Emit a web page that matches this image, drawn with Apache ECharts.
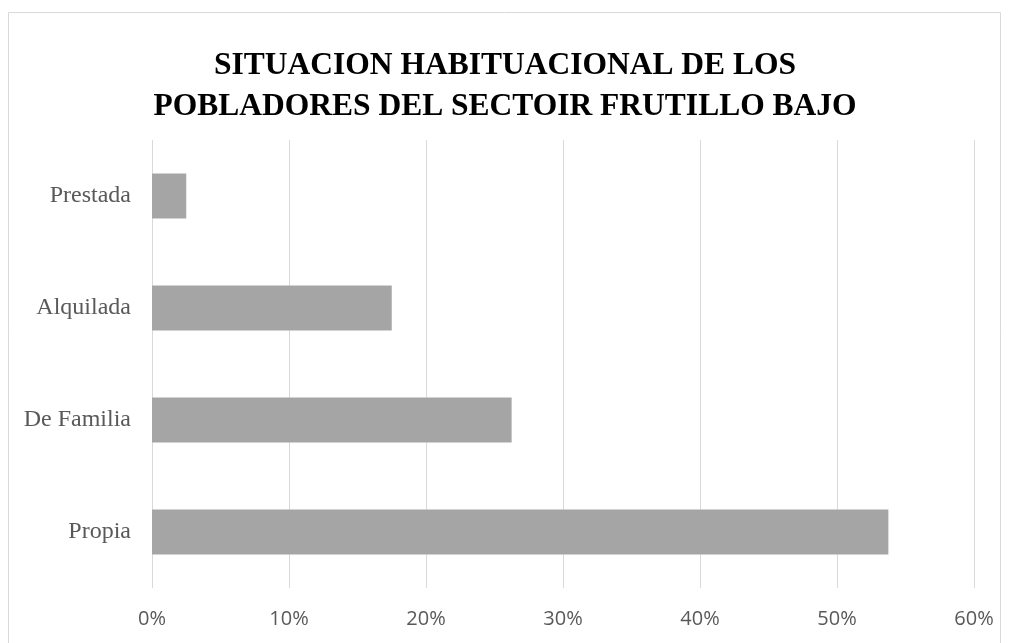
<!DOCTYPE html>
<html>
<head>
<meta charset="utf-8">
<script src="https://cdn.jsdelivr.net/npm/echarts@6/dist/echarts.min.js"></script>
<style>
html,body{margin:0;padding:0;background:#fff;}
#chart{width:1010px;height:643px;}
</style>
</head>
<body>
<div id="chart"></div>
<script>
const titleText = "SITUACION HABITUACIONAL DE LOS\nPOBLADORES DEL SECTOIR FRUTILLO BAJO";
const categories = ["Propia", "De Familia", "Alquilada", "Prestada"];
const values = [53.75, 26.25, 17.5, 2.5];
const axisMin = 0, axisMax = 60, axisStep = 10;

const chart = echarts.init(document.getElementById('chart'), null, {renderer: 'canvas'});
chart.setOption({
  backgroundColor: '#ffffff',
  animation: false,
  graphic: [{
    type: 'rect',
    shape: {x: 8.5, y: 12.5, width: 992, height: 640},
    style: {fill: 'none', stroke: '#d9d9d9', lineWidth: 1},
    silent: true, z: -1
  }],
  title: {
    text: titleText,
    left: 'center',
    top: 40,
    textStyle: {
      fontFamily: '"Liberation Serif", "Times New Roman", serif',
      fontWeight: 'bold',
      fontSize: 31.5,
      lineHeight: 41,
      color: '#000000'
    }
  },
  grid: {left: 152, right: 36, top: 140, bottom: 55, containLabel: false},
  xAxis: {
    type: 'value',
    min: axisMin, max: axisMax, interval: axisStep,
    axisLine: {show: false},
    axisTick: {show: false},
    splitLine: {show: true, lineStyle: {color: '#d9d9d9', width: 1}},
    axisLabel: {
      formatter: v => v + '%',
      margin: 21,
      fontFamily: '"Open Sans", sans-serif',
      fontSize: 20,
      color: '#595959'
    }
  },
  yAxis: {
    type: 'category',
    data: categories,
    axisLine: {show: false},
    axisTick: {show: false},
    splitLine: {show: false},
    axisLabel: {
      margin: 21,
      fontFamily: '"Liberation Serif", "Times New Roman", serif',
      fontSize: 24,
      color: '#595959'
    }
  },
  series: [{
    type: 'bar',
    data: values,
    barWidth: '40%',
    itemStyle: {color: '#a5a5a5'}
  }]
});
</script>
</body>
</html>
